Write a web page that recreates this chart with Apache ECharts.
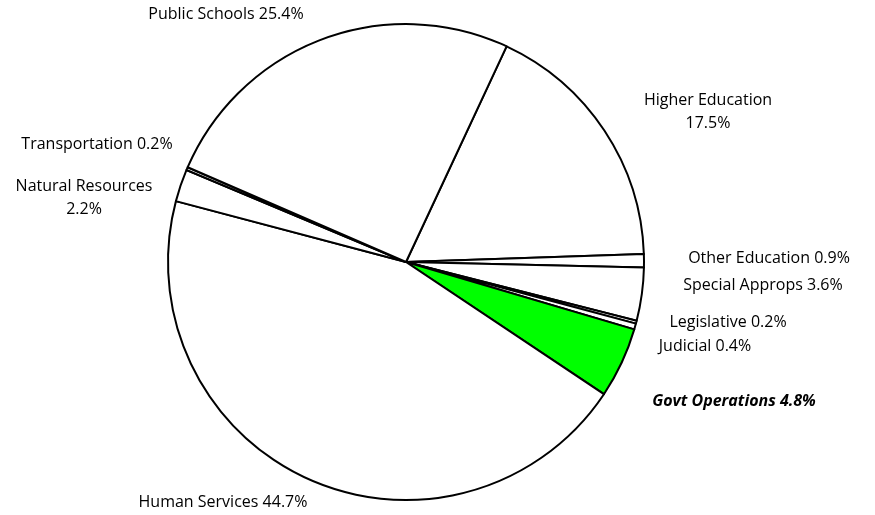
<!DOCTYPE html>
<html>
<head>
<meta charset="utf-8">
<script src="https://cdn.jsdelivr.net/npm/echarts@6/dist/echarts.min.js"></script>
<style>
  html, body { margin: 0; padding: 0; background: #fff; }
  #chart { width: 875px; height: 515px; }
</style>
</head>
<body>
<div id="chart"></div>
<script>
const categories = ['Higher Education', 'Other Education', 'Special Approps', 'Legislative', 'Judicial',
  'Govt Operations', 'Human Services', 'Natural Resources', 'Transportation', 'Public Schools'];
const values = [17.5, 0.9, 3.6, 0.2, 0.4, 4.8, 44.7, 2.2, 0.2, 25.4];
const highlighted = 'Govt Operations';
const wrapped = ['Higher Education', 'Natural Resources'];

// where each label's centre sits (Excel placed them by hand-ish)
const labelSpots = [
  [708, 112], [769, 258], [763, 285], [728, 322], [705, 346],
  [734, 401], [223, 502], [84, 198], [97, 144], [226, 14]
];

const myChart = echarts.init(document.getElementById('chart'));

const data = categories.map((name, i) => ({
  name: name,
  value: values[i],
  itemStyle: { color: name === highlighted ? '#00ff00' : '#ffffff' },
  label: name === highlighted ? { fontWeight: 'bold', fontStyle: 'italic' } : {}
}));

const option = {
  animation: false,
  series: [
    {
      type: 'pie',
      center: [406, 262],
      radius: 238,
      startAngle: 65,
      clockwise: true,
      avoidLabelOverlap: false,
      data: data,
      itemStyle: { borderColor: '#000', borderWidth: 2 },
      label: {
        show: true,
        position: 'outside',
        color: '#000',
        fontFamily: 'Open Sans',
        fontSize: 16,
        lineHeight: 23,
        align: 'center',
        formatter: p => p.name + (wrapped.includes(p.name) ? '\n' : ' ') + p.value.toFixed(1) + '%'
      },
      labelLine: { show: false, length: 10, length2: 0 },
      labelLayout: params => ({
        x: labelSpots[params.dataIndex][0],
        y: labelSpots[params.dataIndex][1],
        align: 'center',
        verticalAlign: 'middle',
        hideOverlap: false
      }),
      emphasis: { disabled: true }
    }
  ]
};
myChart.setOption(option);
window.addEventListener('resize', () => {
  myChart.resize();
});
</script>
</body>
</html>
